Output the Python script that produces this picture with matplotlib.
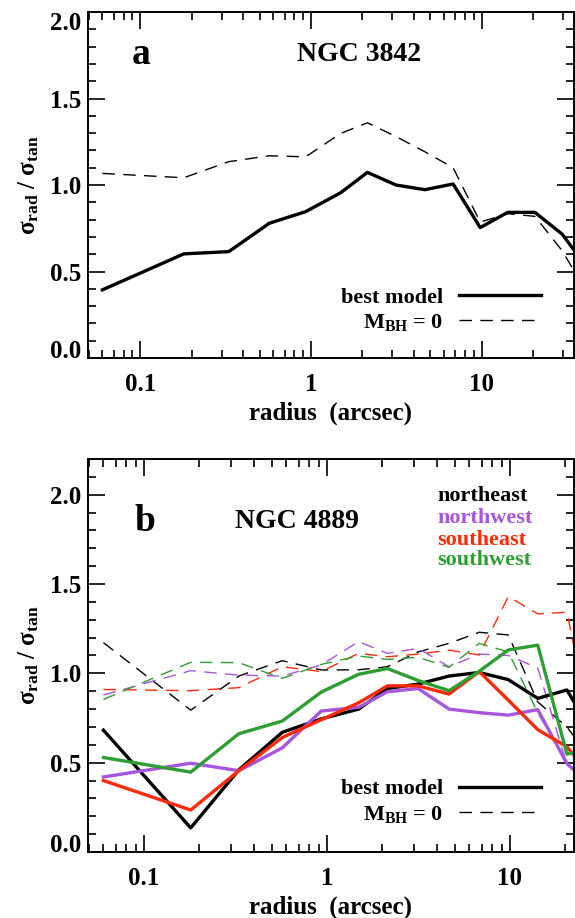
import matplotlib
matplotlib.use("Agg")
import matplotlib.pyplot as plt
from matplotlib.lines import Line2D
from matplotlib.ticker import FixedLocator, LogLocator, MultipleLocator, NullFormatter

plt.rcParams['font.family'] = 'Liberation Serif'
plt.rcParams['font.weight'] = 'bold'
plt.rcParams['axes.labelweight'] = 'bold'
plt.rcParams['mathtext.fontset'] = 'custom'
plt.rcParams['mathtext.rm'] = 'Liberation Serif:bold'
plt.rcParams['mathtext.it'] = 'Liberation Serif:bold'
plt.rcParams['mathtext.bf'] = 'Liberation Serif:bold'

# radii of the model bins (arcsec)
radius = [0.06, 0.18, 0.33, 0.57, 0.93, 1.49, 2.14, 3.15, 4.65, 6.8, 9.8, 14.2, 20.5, 29.6, 43.0]

# panel a, NGC 3842
a_best = [0.394, 0.602, 0.615, 0.779, 0.846, 0.955, 1.073, 1.0, 0.973, 1.006, 0.754, 0.842, 0.842, 0.716, 0.50]
a_nobh = [1.067, 1.042, 1.135, 1.169, 1.163, 1.298, 1.360, 1.28, 1.192, 1.10, 0.786, 0.834, 0.819, 0.62, 0.35]

# panel b, NGC 4889, one curve per quadrant
quadrants = ["northeast", "northwest", "southeast", "southwest"]
quad_colors = ["black", "#a855dd", "#ff2a0a", "#2e9e34"]
b_best = [
    [0.682, 0.135, 0.46, 0.67, 0.745, 0.80, 0.915, 0.94, 0.985, 1.005, 0.965, 0.86, 0.907, 0.63],
    [0.42, 0.497, 0.455, 0.583, 0.789, 0.81, 0.897, 0.915, 0.80, 0.78, 0.766, 0.797, 0.495, 0.34],
    [0.40, 0.235, 0.455, 0.641, 0.74, 0.835, 0.93, 0.93, 0.884, 1.01, 0.85, 0.685, 0.589, 0.39],
    [0.529, 0.447, 0.662, 0.733, 0.895, 0.995, 1.027, 0.96, 0.903, 1.012, 1.131, 1.158, 0.548, 0.58],
]
b_nobh = [
    [1.172, 0.794, 0.985, 1.071, 1.019, 1.02, 1.037, 1.12, 1.168, 1.23, 1.215, 0.84, 0.70, 0.48],
    [0.879, 1.015, 0.99, 0.985, 1.047, 1.178, 1.112, 1.14, 1.037, 1.108, 1.10, 1.03, 0.49, 0.40],
    [0.91, 0.903, 0.92, 1.037, 1.01, 1.112, 1.093, 1.108, 1.13, 1.103, 1.43, 1.333, 1.342, 0.55],
    [0.854, 1.062, 1.06, 0.972, 1.05, 1.097, 1.078, 1.09, 1.034, 1.168, 1.12, 0.78, 0.50, 0.40],
]

xticks = [0.1, 1, 10]
xticklabels = ["0.1", "1", "10"]

LW_SOLID = 2.4
LW_DASH = 1.0
DASHES = (9, 6)
TICK_FS = 18
LABEL_FS = 18
LEG_FS = 16


def style_axes(ax, xmax, ymax):
    ax.set_xscale("log")
    ax.set_xlim(0.0494, xmax)
    ax.set_ylim(0, ymax)
    ax.xaxis.set_major_locator(FixedLocator(xticks))
    ax.set_xticklabels(xticklabels)
    ax.xaxis.set_minor_locator(LogLocator(base=10, subs=range(2, 10)))
    ax.xaxis.set_minor_formatter(NullFormatter())
    yt = [v * 0.5 for v in range(int(ymax / 0.5 + 1e-6) + 1)]
    ax.set_yticks(yt)
    ax.set_yticklabels([f"{v:.1f}" for v in yt])
    ax.yaxis.set_minor_locator(MultipleLocator(0.1))
    ax.tick_params(which="both", direction="in", top=True, right=True, width=1.2, labelsize=TICK_FS)
    ax.tick_params(which="major", length=12)
    ax.tick_params(which="minor", length=6)
    ax.tick_params(axis="x", pad=11)
    ax.tick_params(axis="y", pad=5)
    for s in ax.spines.values():
        s.set_linewidth(1.4)
    # IDL-style: end labels pulled inside the axis range
    labels = ax.get_yticklabels()
    labels[0].set_verticalalignment("baseline")
    if yt[-1] >= ymax - 1e-6:
        labels[-1].set_verticalalignment("top")
    ax.set_xlabel("radius  (arcsec)", fontsize=LABEL_FS, labelpad=4)
    ax.set_ylabel(r"$\sigma_{\rm rad}$ / $\sigma_{\rm tan}$", fontsize=LABEL_FS, labelpad=6)


def add_legend(ax, ytop):
    handles = [Line2D([], [], color="black", lw=LW_SOLID),
               Line2D([], [], color="black", lw=LW_DASH, dashes=DASHES)]
    ax.legend(handles, ["best model", r"M$_{\rm BH}$ = 0"], loc="upper right",
              bbox_to_anchor=(0.932, ytop), frameon=False, markerfirst=False,
              fontsize=LEG_FS, handlelength=3.7, handletextpad=0.7,
              labelspacing=0.2, borderpad=0, borderaxespad=0)


fig = plt.figure(figsize=(5.75, 9.18), dpi=100)

# panel a
ax1 = fig.add_axes([0.1530, 0.6100, 0.8452, 0.3769])
ax1.plot(radius, a_nobh, color="black", lw=LW_DASH, dashes=DASHES)
ax1.plot(radius, a_best, color="black", lw=LW_SOLID)
style_axes(ax1, 34.7, 2.0)
ax1.text(0.109, 0.876, "a", transform=ax1.transAxes, fontsize=27, ha="center", va="center")
ax1.text(0.558, 0.876, "NGC 3842", transform=ax1.transAxes, fontsize=20, ha="center", va="center")
add_legend(ax1, 0.205)

# panel b
ax2 = fig.add_axes([0.1530, 0.0719, 0.8452, 0.4281])
for i in range(len(quadrants)):
    ax2.plot(radius[:len(b_nobh[i])], b_nobh[i], color=quad_colors[i], lw=LW_DASH, dashes=DASHES)
for i in range(len(quadrants)):
    ax2.plot(radius[:len(b_best[i])], b_best[i], color=quad_colors[i], lw=LW_SOLID)
style_axes(ax2, 22.4, 2.2)
ax2.text(0.117, 0.840, "b", transform=ax2.transAxes, fontsize=27, ha="center", va="center")
ax2.text(0.430, 0.840, "NGC 4889", transform=ax2.transAxes, fontsize=20, ha="center", va="center")
quad_y = [0.905, 0.850, 0.795, 0.744]
for name, c, yy in zip(quadrants, quad_colors, quad_y):
    ax2.text(0.719, yy, name, transform=ax2.transAxes, fontsize=LEG_FS, color=c, ha="left", va="center")
add_legend(ax2, 0.186)

fig.savefig("out.png", dpi=100)
